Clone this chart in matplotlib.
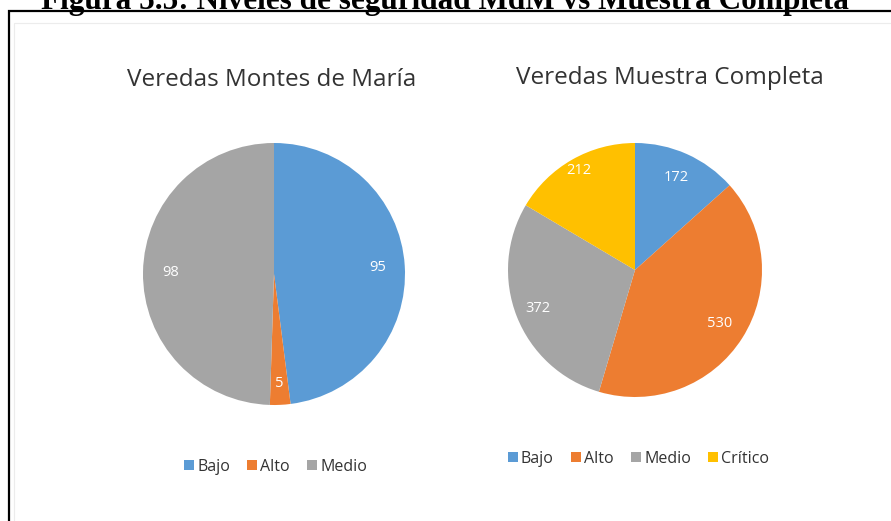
import matplotlib
matplotlib.use("Agg")
import matplotlib.pyplot as plt
import numpy as np
from matplotlib.patches import Rectangle
from matplotlib.lines import Line2D

W, H = 891, 521
fig = plt.figure(figsize=(W / 100, H / 100), dpi=100)
fig.patch.set_facecolor("white")

# ---- data ----
left_title = "Veredas Montes de María"
left_labels = ["Bajo", "Alto", "Medio"]
left_values = [95, 5, 98]

right_title = "Veredas Muestra Completa"
right_labels = ["Bajo", "Alto", "Medio", "Crítico"]
right_values = [172, 530, 372, 212]

figure_caption = "Figura 5.5: Niveles de seguridad MdM vs Muestra Completa"

colors = {"Bajo": "#5B9BD5", "Alto": "#ED7D31", "Medio": "#A5A5A5", "Crítico": "#FFC000"}
FONT = "Open Sans"
TXT = "#333333"


def px_axes(cx, cy, r):
    return fig.add_axes([(cx - r) / W, (H - cy - r) / H, 2 * r / W, 2 * r / H])


def draw_pie(ax, labels, values, dists):
    wedges, _ = ax.pie(values, colors=[colors[l] for l in labels], startangle=90,
                       counterclock=False, radius=1,
                       wedgeprops=dict(linewidth=0))
    for w, v, d in zip(wedges, values, dists):
        ang = np.deg2rad((w.theta1 + w.theta2) / 2)
        ax.text(d * np.cos(ang), d * np.sin(ang), str(v), ha="center", va="center",
                color="white", fontsize=10.5, family=FONT)
    ax.set_xlim(-1, 1)
    ax.set_ylim(-1, 1)
    ax.set_aspect("equal")
    ax.axis("off")


axL = px_axes(274, 274, 131)
draw_pie(axL, left_labels, left_values, [0.79, 0.84, 0.79])
axR = px_axes(635, 270, 127)
draw_pie(axR, right_labels, right_values, [0.8, 0.79, 0.82, 0.9])

# titles
fig.text(272 / W, 1 - 80 / H, left_title, ha="center", va="center",
         fontsize=17.5, color=TXT, family=FONT)
fig.text(670 / W, 1 - 78 / H, right_title, ha="center", va="center",
         fontsize=17.5, color=TXT, family=FONT)


def legend(labels, cx, cy):
    handles = [Line2D([], [], marker="s", linestyle="none", markersize=7,
                      markerfacecolor=colors[l], markeredgewidth=0) for l in labels]
    fig.legend(handles, labels, loc="center", bbox_to_anchor=(cx / W, 1 - cy / H),
               ncol=len(labels), frameon=False, handletextpad=0.1, columnspacing=1.0,
               handlelength=0.8, prop={"family": FONT, "size": 11.5}, labelcolor=TXT)


legend(left_labels, 275, 467)
legend(right_labels, 638, 459)

# caption (cut off at top, as in the source)
fig.text(445 / W, 1 - 2 / H, figure_caption, ha="center", va="center",
         fontsize=22.5, fontweight="bold", family="Liberation Serif", color="black")

# outer border and faint inner chart border
fig.add_artist(Rectangle((9 / W, -0.1), 1.2, 1 - 11 / H + 0.1, transform=fig.transFigure,
                         fill=False, edgecolor="black", linewidth=1.6))
fig.add_artist(Rectangle((14 / W, -0.1), 1.2, 1 - 23 / H + 0.1, transform=fig.transFigure,
                         fill=False, edgecolor="#ececec", linewidth=0.8))

fig.savefig("out.png", dpi=100)
